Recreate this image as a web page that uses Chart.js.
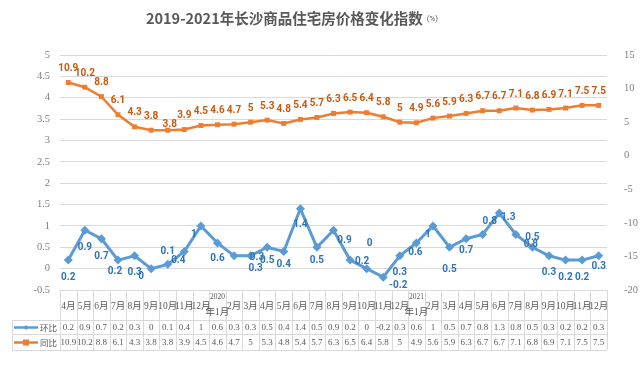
<!DOCTYPE html>
<html>
<head>
<meta charset="utf-8">
<script src="https://cdn.jsdelivr.net/npm/chart.js@4.4.0/dist/chart.umd.min.js"></script>
<style>
  html, body { margin: 0; padding: 0; background: #fff; }
  canvas { display: block; }
</style>
</head>
<body>
<canvas id="houseChart" width="641" height="366"></canvas>
<script>
// 月份（2019年4月 - 2021年12月）
const categories = ['4月','5月','6月','7月','8月','9月','10月','11月','12月',
  '2020年1月','2月','3月','4月','5月','6月','7月','8月','9月','10月','11月','12月',
  '2021年1月','2月','3月','4月','5月','6月','7月','8月','9月','10月','11月','12月'];
// 环比 (%)
const huanbi = [0.2,0.9,0.7,0.2,0.3,0,0.1,0.4,1,
  0.6,0.3,0.3,0.5,0.4,1.4,0.5,0.9,0.2,0,-0.2,0.3,
  0.6,1,0.5,0.7,0.8,1.3,0.8,0.5,0.3,0.2,0.2,0.3];
// 同比 (%)
const tongbi = [10.9,10.2,8.8,6.1,4.3,3.8,3.8,3.9,4.5,
  4.6,4.7,5,5.3,4.8,5.4,5.7,6.3,6.5,6.4,5.8,5,
  4.9,5.6,5.9,6.3,6.7,6.7,7.1,6.8,6.9,7.1,7.5,7.5];
// 坐标轴范围
const leftAxis = { min: -0.5, max: 5, step: 0.5 };
const rightAxis = { min: -20, max: 15, step: 5 };

// 数据标签偏移 [dx, dy]（模仿原图的标签摆放）
const huanbiLabelOffset = [[0,17],[0,17],[0,18],[-3,11],[0,17],[-10,8],[0,-13],[-6,9],[-7,9],
  [0,15],[23,2],[5,13],[0,13],[0,13],[0,16],[0,13],[11,10],[12,1],[3,-25],[15,8],[0,17],
  [-1,9],[-5,9],[0,22],[0,12],[7,-13],[9,4],[15,10],[0,-10],[0,17],[0,17],[0,17],[0,11]];
const tongbiLabelOffset = categories.map((c, i) => i === 6 ? [2,-6] : [0,-14]);

const BLUE = '#5b9bd5', ORANGE = '#ed7d31';
const SERIF = '"Liberation Serif", "Noto Sans CJK SC", serif';
const SANS = '"Roboto", "Liberation Sans", sans-serif';
const CJK = '"Noto Sans CJK SC", sans-serif';

// 标题 + 数据标签 + 底部数据表
const decorPlugin = {
  id: 'decor',
  afterDatasetsDraw(chart) {
    const ctx = chart.ctx;
    ctx.save();
    ctx.textAlign = 'center';
    ctx.textBaseline = 'middle';
    ctx.font = 'bold 10px ' + SANS;
    const m0 = chart.getDatasetMeta(0);
    ctx.fillStyle = '#2e75b6';
    m0.data.forEach((p, i) => {
      const o = huanbiLabelOffset[i];
      ctx.fillText(String(huanbi[i]), p.x + o[0], p.y + o[1]);
    });
    const m1 = chart.getDatasetMeta(1);
    ctx.fillStyle = '#c55a11';
    m1.data.forEach((p, i) => {
      const o = tongbiLabelOffset[i];
      ctx.fillText(String(tongbi[i]), p.x + o[0], p.y + o[1]);
    });
    ctx.restore();
  },
  afterDraw(chart) {
    const { ctx, chartArea } = chart;
    const xs = chart.scales.x;
    ctx.save();

    // 标题
    const t1 = '2019-2021年长沙商品住宅房价格变化指数';
    ctx.font = 'bold 14.5px ' + CJK;
    const w1 = ctx.measureText(t1).width;
    ctx.font = '8px ' + SANS;
    const w2 = ctx.measureText('(%)').width;
    const sx = 292 - (w1 + 4 + w2) / 2;
    ctx.textBaseline = 'middle';
    ctx.textAlign = 'left';
    ctx.fillStyle = '#595959';
    ctx.font = 'bold 14.5px ' + CJK;
    ctx.fillText(t1, sx, 18);
    ctx.font = '8px ' + SANS;
    ctx.fillText('(%)', sx + w1 + 4, 19);

    // 数据表
    const n = categories.length;
    const step = (chartArea.right - chartArea.left) / n;
    const top = Math.round(chartArea.bottom);
    const r1 = top + 30, r2 = r1 + 14, r3 = r2 + 16;
    const tLeft = 12, tRight = Math.round(chartArea.right);
    ctx.strokeStyle = '#d9d9d9';
    ctx.lineWidth = 1;
    const hline = (x1, x2, y) => { ctx.beginPath(); ctx.moveTo(x1, y + 0.5); ctx.lineTo(x2, y + 0.5); ctx.stroke(); };
    const vline = (x, y1, y2) => { ctx.beginPath(); ctx.moveTo(x + 0.5, y1); ctx.lineTo(x + 0.5, y2); ctx.stroke(); };
    hline(tLeft, tRight, r1);
    hline(tLeft, tRight, r2);
    hline(tLeft, tRight, r3);
    vline(tLeft, r1, r3);
    for (let i = 0; i <= n; i++) {
      vline(Math.round(chartArea.left + i * step), top, r3);
    }

    ctx.textAlign = 'center';
    ctx.fillStyle = '#595959';
    categories.forEach((c, i) => {
      const cx = xs.getPixelForValue(i);
      const k = c.indexOf('年');
      if (k > 0) {
        ctx.font = '7.5px ' + SERIF;
        ctx.fillText(c.slice(0, k), cx, top + 7);
        ctx.font = '9.5px ' + SERIF;
        ctx.fillText(c.slice(k), cx, top + 22);
      } else {
        ctx.font = '9.5px ' + SERIF;
        ctx.fillText(c, cx, top + 16);
      }
      ctx.font = '9px ' + SERIF;
      ctx.fillText(String(huanbi[i]), cx, r1 + 7.5);
      ctx.fillText(String(tongbi[i]), cx, r2 + 8.5);
    });

    // 图例
    const ly1 = r1 + 7.5, ly2 = r2 + 8.5;
    ctx.lineWidth = 2.5;
    ctx.strokeStyle = BLUE;
    ctx.beginPath(); ctx.moveTo(14, ly1); ctx.lineTo(38, ly1); ctx.stroke();
    ctx.fillStyle = BLUE;
    ctx.beginPath(); ctx.moveTo(26, ly1 - 2.5); ctx.lineTo(28.5, ly1); ctx.lineTo(26, ly1 + 2.5); ctx.lineTo(23.5, ly1); ctx.closePath(); ctx.fill();
    ctx.strokeStyle = ORANGE;
    ctx.beginPath(); ctx.moveTo(14, ly2); ctx.lineTo(38, ly2); ctx.stroke();
    ctx.fillStyle = ORANGE;
    ctx.fillRect(23, ly2 - 3, 6, 6);
    ctx.fillStyle = '#595959';
    ctx.textAlign = 'left';
    ctx.font = '8.5px ' + CJK;
    ctx.fillText('环比', 40, ly1);
    ctx.fillText('同比', 40, ly2);
    ctx.restore();
  }
};

const ctx = document.getElementById('houseChart').getContext('2d');
const houseChart = new Chart(ctx, {
  type: 'line',
  data: {
    labels: categories,
    datasets: [{
      label: '环比',
      data: huanbi,
      yAxisID: 'y',
      borderColor: BLUE,
      backgroundColor: BLUE,
      borderWidth: 3,
      pointStyle: 'rectRot',
      pointRadius: 4.5,
      pointBorderWidth: 0,
      tension: 0,
      fill: false
    }, {
      label: '同比',
      data: tongbi,
      yAxisID: 'y2',
      borderColor: ORANGE,
      backgroundColor: ORANGE,
      borderWidth: 2.5,
      pointStyle: 'rect',
      pointRadius: 3.5,
      pointBorderWidth: 0,
      tension: 0,
      fill: false
    }]
  },
  options: {
    responsive: false,
    animation: false,
    layout: { padding: { top: 55, left: 12, right: 0, bottom: 16 } },
    plugins: {
      legend: { display: false },
      title: { display: false },
      tooltip: { enabled: false }
    },
    scales: {
      x: {
        offset: true,
        grid: { display: false },
        border: { display: false },
        ticks: { display: false },
        afterFit: s => { s.height = 60; }
      },
      y: {
        position: 'left',
        min: leftAxis.min,
        max: leftAxis.max,
        grid: { color: '#d9d9d9', drawTicks: false },
        border: { display: false },
        ticks: {
          stepSize: leftAxis.step,
          padding: 10,
          color: '#7f7f7f',
          font: { family: SERIF, size: 10.5 },
          callback: v => String(Math.round(v * 10) / 10)
        },
        afterFit: s => { s.width = 48; }
      },
      y2: {
        position: 'right',
        min: rightAxis.min,
        max: rightAxis.max,
        grid: { display: false },
        border: { display: false },
        ticks: {
          stepSize: rightAxis.step,
          padding: 9,
          color: '#7f7f7f',
          font: { family: SERIF, size: 10.5 }
        },
        afterFit: s => { s.width = 34; }
      }
    }
  },
  plugins: [decorPlugin]
});
</script>
</body>
</html>
